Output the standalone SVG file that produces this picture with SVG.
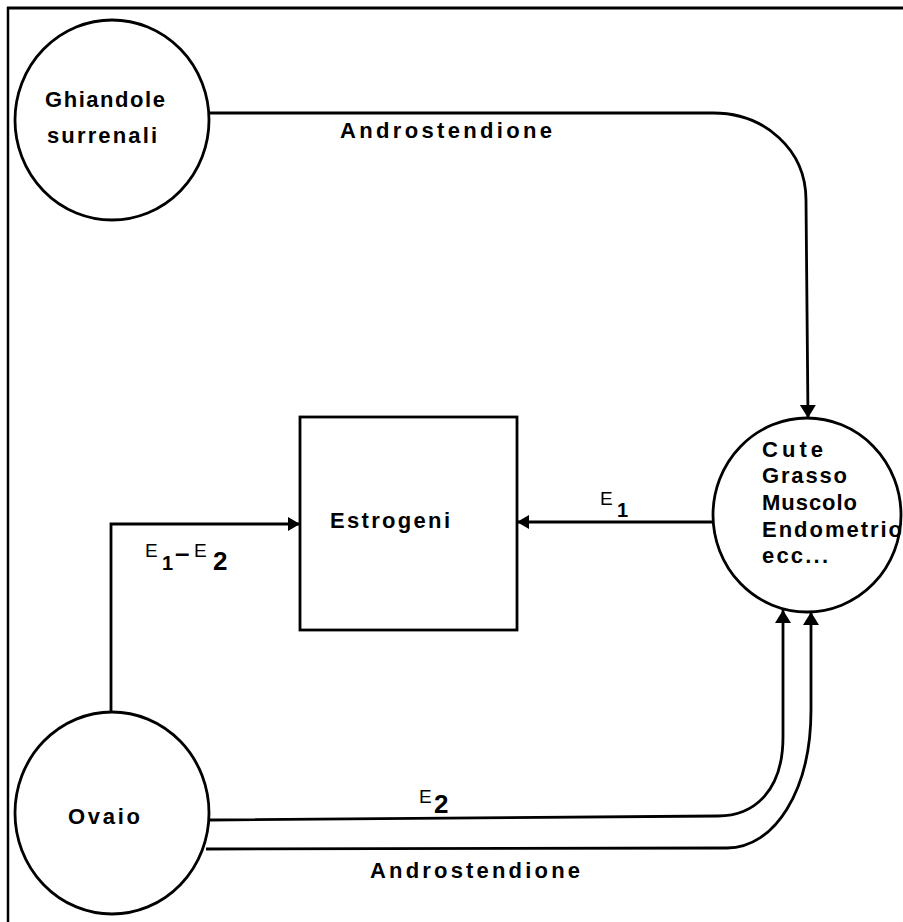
<svg xmlns="http://www.w3.org/2000/svg" width="903" height="922" viewBox="0 0 903 922">
<style>
.node{fill:#fff;stroke:#000;stroke-width:2.8}
.lbl{font-family:"Liberation Sans",Arial,sans-serif;font-weight:bold;font-size:22px;fill:#000}
.sm{font-family:"Liberation Sans",Arial,sans-serif;fill:#000}
.con{fill:none;stroke:#000;stroke-width:2.8}
</style>
<defs>
<marker id="big" markerUnits="userSpaceOnUse" markerWidth="18" markerHeight="18" refX="13" refY="8" orient="auto">
<path d="M0,0 L13,8 L0,16 z" fill="#000"/>
</marker>
<marker id="small" markerUnits="userSpaceOnUse" markerWidth="16" markerHeight="16" refX="12" refY="7" orient="auto">
<path d="M0,0 L12,7 L0,14 z" fill="#000"/>
</marker>
</defs>
<rect width="903" height="922" fill="#fff"/>
<g id="frame">
<line x1="7" y1="8" x2="903" y2="8" stroke="#000" stroke-width="3"/>
<line x1="8" y1="7" x2="8" y2="922" stroke="#000" stroke-width="2.5"/>
</g>
<g id="connectors">
<path class="con" d="M210,113 L713,113 C765,113 806,150 806,200 L808,418" marker-end="url(#big)"/>
<path class="con" d="M111,712 L111,524 L300,524" stroke-width="2.2" marker-end="url(#small)"/>
<path class="con" d="M713,522 L517,522" marker-end="url(#small)"/>
<path class="con" d="M210,820 L718,816 C755,816 783,790 783,737 L783,610" marker-end="url(#big)"/>
<path class="con" d="M206,849 L727,848 C775,848 811,790 811,710 L811,612" marker-end="url(#big)"/>
</g>
<g id="ghiandole">
<ellipse class="node" cx="112" cy="120" rx="97" ry="100"/>
<text class="lbl" x="45" y="107" textLength="120" lengthAdjust="spacing">Ghiandole</text>
<text class="lbl" x="47" y="143" textLength="110" lengthAdjust="spacing">surrenali</text>
</g>
<g id="estrogeni">
<rect class="node" x="300" y="417" width="217" height="213" stroke-width="3"/>
<text class="lbl" x="330" y="528" font-size="21" textLength="120" lengthAdjust="spacing">Estrogeni</text>
</g>
<g id="tessuti">
<ellipse class="node" cx="807" cy="515" rx="94" ry="97"/>
<text class="lbl" x="762" y="457" font-size="21" textLength="61" lengthAdjust="spacing">Cute</text>
<text class="lbl" x="762" y="483" font-size="21" textLength="85" lengthAdjust="spacing">Grasso</text>
<text class="lbl" x="762" y="510" font-size="21" textLength="95" lengthAdjust="spacing">Muscolo</text>
<text class="lbl" x="762" y="537" font-size="21" textLength="140" lengthAdjust="spacing">Endometrio</text>
<text class="lbl" x="762" y="563" font-size="21" textLength="66" lengthAdjust="spacing">ecc...</text>
</g>
<g id="ovaio">
<ellipse class="node" cx="112" cy="813" rx="97" ry="101"/>
<text class="lbl" x="68" y="824" font-size="23" textLength="72" lengthAdjust="spacing">Ovaio</text>
</g>
<g id="labels">
<text class="lbl" x="340" y="138" textLength="212" lengthAdjust="spacing">Androstendione</text>
<text class="lbl" x="370" y="878" textLength="210" lengthAdjust="spacing">Androstendione</text>
<text class="sm"><tspan x="600" y="505" font-size="19">E</tspan><tspan x="617" y="517" font-size="20" font-weight="bold">1</tspan></text>
<text class="sm"><tspan x="419" y="803" font-size="19">E</tspan><tspan x="434" y="813" font-size="26" font-weight="bold">2</tspan></text>
<text class="sm"><tspan x="145" y="557" font-size="19">E</tspan><tspan x="162" y="570" font-size="20" font-weight="bold">1</tspan><tspan x="175" y="562" font-size="26" font-weight="bold">–</tspan><tspan x="194" y="557" font-size="19">E</tspan><tspan x="213" y="570" font-size="26" font-weight="bold">2</tspan></text>
</g>
</svg>
